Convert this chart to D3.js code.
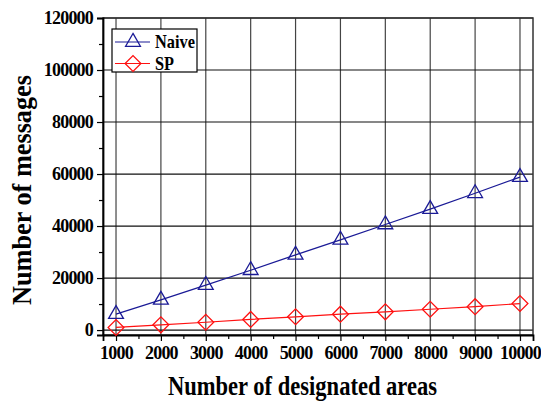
<!DOCTYPE html>
<html>
<head>
<meta charset="utf-8">
<script src="https://cdn.jsdelivr.net/npm/d3@7"></script>
<style>
  body { margin: 0; background: #fff; }
  text { font-family: "Liberation Serif", "Times New Roman", serif; font-weight: bold; }
</style>
</head>
<body>
<div id="chart"></div>
<script>
var areas = [1000, 2000, 3000, 4000, 5000, 6000, 7000, 8000, 9000, 10000];
var naive = [6100, 11600, 17300, 23000, 28900, 34700, 40600, 46500, 52600, 58800];
var sp = [1000, 2000, 3000, 4100, 5100, 6100, 7000, 8000, 9000, 10200];
var yTicks = [0, 20000, 40000, 60000, 80000, 100000, 120000];
var yMinor = [10000, 30000, 50000, 70000, 90000, 110000];
var xMinor = [1500, 2500, 3500, 4500, 5500, 6500, 7500, 8500, 9500];

function main() {
    var W = 541, H = 403;
    var pl = 103, pr = 533, pt = 18, pb = 335;

    var svg = d3.select("#chart").append("svg")
        .attr("width", W).attr("height", H);

    var x = d3.scaleLinear().domain([710, 10290]).range([pl, pr]);
    var y = d3.scaleLinear().domain([-1900, 120000]).range([pb, pt]);

    // grid
    svg.append("g").selectAll("line").data(areas).enter().append("line")
        .attr("x1", function(d) { return x(d); }).attr("x2", function(d) { return x(d); })
        .attr("y1", pt).attr("y2", pb)
        .attr("stroke", "#444").attr("stroke-width", 1.2);
    svg.append("g").selectAll("line").data(yTicks).enter().append("line")
        .attr("x1", pl).attr("x2", pr)
        .attr("y1", function(d) { return y(d); }).attr("y2", function(d) { return y(d); })
        .attr("stroke", "#111").attr("stroke-width", 1.2);

    // frame
    svg.append("rect")
        .attr("x", pl).attr("y", pt)
        .attr("width", pr - pl).attr("height", pb - pt)
        .attr("fill", "none").attr("stroke", "#333").attr("stroke-width", 1.5);

    // axes
    svg.append("g")
        .attr("transform", "translate(0," + pb + ")")
        .call(d3.axisBottom(x).tickValues(areas).tickSize(6).tickPadding(5).tickFormat(d3.format("d")));
    svg.append("g")
        .attr("transform", "translate(0," + pb + ")")
        .call(d3.axisBottom(x).tickValues(xMinor).tickSize(4).tickFormat(""))
        .select(".domain").remove();
    svg.append("g")
        .attr("transform", "translate(" + pl + ",0)")
        .call(d3.axisLeft(y).tickValues(yTicks).tickSize(6).tickPadding(4).tickFormat(d3.format("d")));
    svg.append("g")
        .attr("transform", "translate(" + pl + ",0)")
        .call(d3.axisLeft(y).tickValues(yMinor).tickSize(4).tickFormat(""))
        .select(".domain").remove();

    svg.selectAll(".domain").attr("stroke", "#000").attr("stroke-width", 1.8);
    svg.selectAll(".tick line").attr("stroke", "#000").attr("stroke-width", 1.2);
    svg.selectAll(".tick text")
        .attr("font-family", "Liberation Serif, serif")
        .attr("font-weight", "bold")
        .attr("font-size", 18)
        .attr("letter-spacing", -0.8)
        .attr("fill", "#000");

    // axis titles
    svg.append("text")
        .attr("x", 168).attr("y", 395)
        .attr("font-size", 27)
        .attr("textLength", 269).attr("lengthAdjust", "spacingAndGlyphs")
        .text("Number of designated areas");
    svg.append("text")
        .attr("transform", "translate(31,305) rotate(-90)")
        .attr("font-size", 27)
        .attr("textLength", 230).attr("lengthAdjust", "spacingAndGlyphs")
        .text("Number of messages");

    // series
    var line = function(vals) {
        return d3.line()
            .x(function(d, i) { return x(areas[i]); })
            .y(function(d) { return y(d); })(vals);
    };
    var navy = "#1a1a96", red = "#ff1010";
    var tri = d3.symbol().type(d3.symbolTriangle).size(95);
    var dia = d3.symbol().type(d3.symbolSquare).size(125);

    svg.append("path").attr("d", line(naive)).attr("fill", "none").attr("stroke", navy).attr("stroke-width", 1.2);
    svg.append("path").attr("d", line(sp)).attr("fill", "none").attr("stroke", red).attr("stroke-width", 1.2);

    svg.append("g").selectAll("path").data(naive).enter().append("path")
        .attr("d", tri)
        .attr("transform", function(d, i) { return "translate(" + x(areas[i]) + "," + y(d) + ")"; })
        .attr("fill", "none").attr("stroke", navy).attr("stroke-width", 1.3);
    svg.append("g").selectAll("path").data(sp).enter().append("path")
        .attr("d", dia)
        .attr("transform", function(d, i) { return "translate(" + x(areas[i]) + "," + y(d) + ") rotate(45)"; })
        .attr("fill", "none").attr("stroke", red).attr("stroke-width", 1.3);

    // legend
    var lg = svg.append("g").attr("transform", "translate(112,29)");
    lg.append("rect").attr("width", 85).attr("height", 43)
        .attr("fill", "#fff").attr("stroke", "#000").attr("stroke-width", 1.2);
    var items = [{name: "Naive", color: navy, sym: tri, rot: 0, w: 40},
                 {name: "SP", color: red, sym: dia, rot: 45, w: 19}];
    items.forEach(function(it, i) {
        var cy = 13 + i * 21.5;
        lg.append("line").attr("x1", 3).attr("x2", 38).attr("y1", cy).attr("y2", cy)
            .attr("stroke", it.color).attr("stroke-width", 1.2);
        lg.append("path").attr("d", it.sym)
            .attr("transform", "translate(21," + cy + ") rotate(" + it.rot + ")")
            .attr("fill", "none").attr("stroke", it.color).attr("stroke-width", 1.3);
        lg.append("text").attr("x", 43).attr("y", cy + 6)
            .attr("font-size", 19)
            .attr("textLength", it.w).attr("lengthAdjust", "spacingAndGlyphs")
            .text(it.name);
    });
}
main();
</script>
</body>
</html>
